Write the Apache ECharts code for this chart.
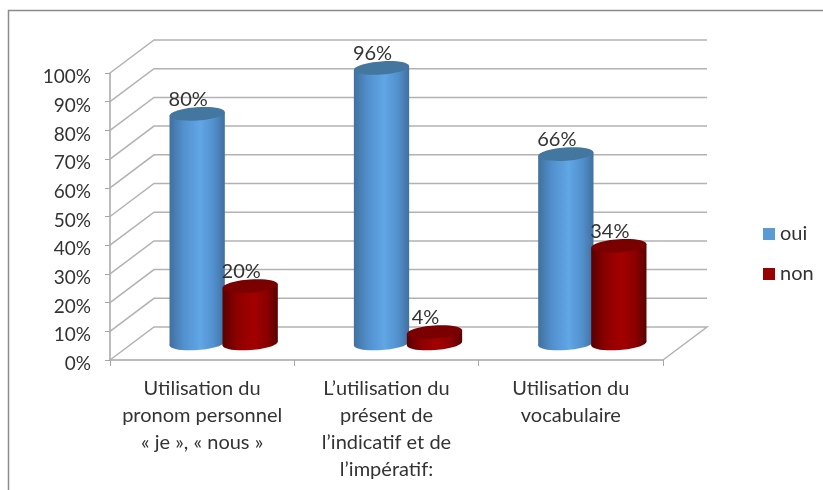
<!DOCTYPE html>
<html><head><meta charset="utf-8">
<style>html,body{margin:0;padding:0;background:#fff}#c{width:823px;height:490px}</style>
<script src="https://cdn.jsdelivr.net/npm/echarts@6/dist/echarts.min.js"></script>
</head><body><div id="c"></div>
<script>
var categories = ["Utilisation du\npronom personnel\n« je », « nous »", "L’utilisation du\nprésent de\nl’indicatif et de\nl’impératif:", "Utilisation du\nvocabulaire"];
var ouiValues = [80, 96, 66];
var nonValues = [20, 4, 34];
var tickValues = [0, 10, 20, 30, 40, 50, 60, 70, 80, 90, 100];

var FONT = 'Lato, "Noto Sans", sans-serif';
var DEPTH_X = 44, DEPTH_Y = 33;

function wallItem(params, api) {
  var p = api.coord([0, api.value(0)]);
  var left = params.coordSys.x, right = left + params.coordSys.width;
  var y = p[1];
  var pts = [[left, y], [left + DEPTH_X, y - DEPTH_Y], [right + DEPTH_X, y - DEPTH_Y]];
  if (api.value(0) === 0) pts.push([right, y]);
  return { type: 'polyline', shape: { points: pts }, style: { stroke: '#b2b2b2', lineWidth: 1.5, fill: null }, silent: true };
}

function cylinder(shift, edge, mid, cap) {
  return function (params, api) {
    var catIdx = api.value(0), val = api.value(1);
    var top = api.coord([catIdx, val]);
    var base = api.coord([catIdx, 0]);
    var w = api.size([1, 0])[0] * 0.3;
    var rx = w / 2, ry = 6.6, tilt = 0.07;
    var cx = top[0] + DEPTH_X / 2 + shift;
    var ty = top[1] - DEPTH_Y / 2, by = base[1] - DEPTH_Y / 2;
    var dy = rx * Math.sin(tilt);
    var grad = new echarts.graphic.LinearGradient(0, 0, 1, 0, [
      { offset: 0, color: edge }, { offset: 0.25, color: mid[0] },
      { offset: 0.55, color: mid[1] }, { offset: 0.8, color: mid[0] }, { offset: 1, color: edge }
    ]);
    return {
      type: 'group', children: [
        { type: 'ellipse', x: cx, y: by, rotation: tilt, shape: { cx: 0, cy: 0, rx: rx, ry: ry }, style: { fill: grad } },
        { type: 'polygon', shape: { points: [[cx - rx, ty + dy], [cx + rx, ty - dy], [cx + rx, by - dy], [cx - rx, by + dy]] }, style: { fill: grad } },
        { type: 'ellipse', x: cx, y: ty, rotation: tilt, shape: { cx: 0, cy: 0, rx: rx, ry: ry }, style: { fill: cap } },
        { type: 'text', z2: 50, style: { x: cx - 9, y: ty - 14.5, text: val + '%', fill: '#333', font: '20px ' + FONT, align: 'center', verticalAlign: 'middle' } }
      ]
    };
  };
}

function toItems(arr) { return arr.map(function (v, i) { return [i, v]; }); }

var chart = echarts.init(document.getElementById('c'), null, { renderer: 'canvas' });
chart.setOption({
  animation: false,
  backgroundColor: '#fff',
  grid: { left: 110, top: 73, width: 553, height: 287 },
  xAxis: {
    type: 'category', data: categories,
    axisLine: { lineStyle: { color: '#a6a6a6', width: 1.5 } },
    axisTick: { show: true, length: 6, lineStyle: { color: '#a6a6a6', width: 1 } },
    axisLabel: { margin: 15, color: '#333', fontFamily: FONT, fontSize: 20, lineHeight: 27, interval: 0, align: 'center', verticalAlign: 'top' }
  },
  yAxis: {
    type: 'value', min: 0, max: 100, interval: 10,
    axisLine: { show: true, lineStyle: { color: '#a6a6a6', width: 1.5 } },
    axisTick: { show: true, length: 5, lineStyle: { color: '#a6a6a6', width: 1 } },
    splitLine: { show: false },
    axisLabel: { formatter: '{value}%', margin: 19, color: '#333', fontFamily: FONT, fontSize: 19, verticalAlign: 'top', lineHeight: 8 }
  },
  legend: {
    data: ['oui', 'non'], orient: 'vertical', left: 763, top: 224, itemWidth: 12, itemHeight: 12, itemGap: 20,
    icon: 'rect', selectedMode: false,
    textStyle: { color: '#333', fontFamily: FONT, fontSize: 20 }, padding: 0
  },
  graphic: [
    { type: 'polyline', silent: true, shape: { points: [[8.5, 490], [8.5, 10.5], [823, 10.5]] }, style: { stroke: '#8c8c8c', lineWidth: 1.5, fill: null } }
  ],
  series: [
    { name: 'wall', type: 'custom', coordinateSystem: 'cartesian2d', renderItem: wallItem, data: tickValues.map(function (v) { return [v]; }), encode: { y: 0 }, z: 1, silent: true },
    { name: 'oui', type: 'custom', coordinateSystem: 'cartesian2d', itemStyle: { color: '#5B9BD5' }, z: 3, silent: true,
      renderItem: cylinder(-27, '#40709f', ['#5290cd', '#61a6e6'], '#44779f'), data: toItems(ouiValues), encode: { x: 0, y: 1 } },
    { name: 'non', type: 'custom', coordinateSystem: 'cartesian2d', itemStyle: { color: '#990000' }, z: 4, silent: true,
      renderItem: cylinder(26, '#5a0000', ['#8c0000', '#a30000'], '#7a0000'), data: toItems(nonValues), encode: { x: 0, y: 1 } }
  ]
});
</script></body></html>
